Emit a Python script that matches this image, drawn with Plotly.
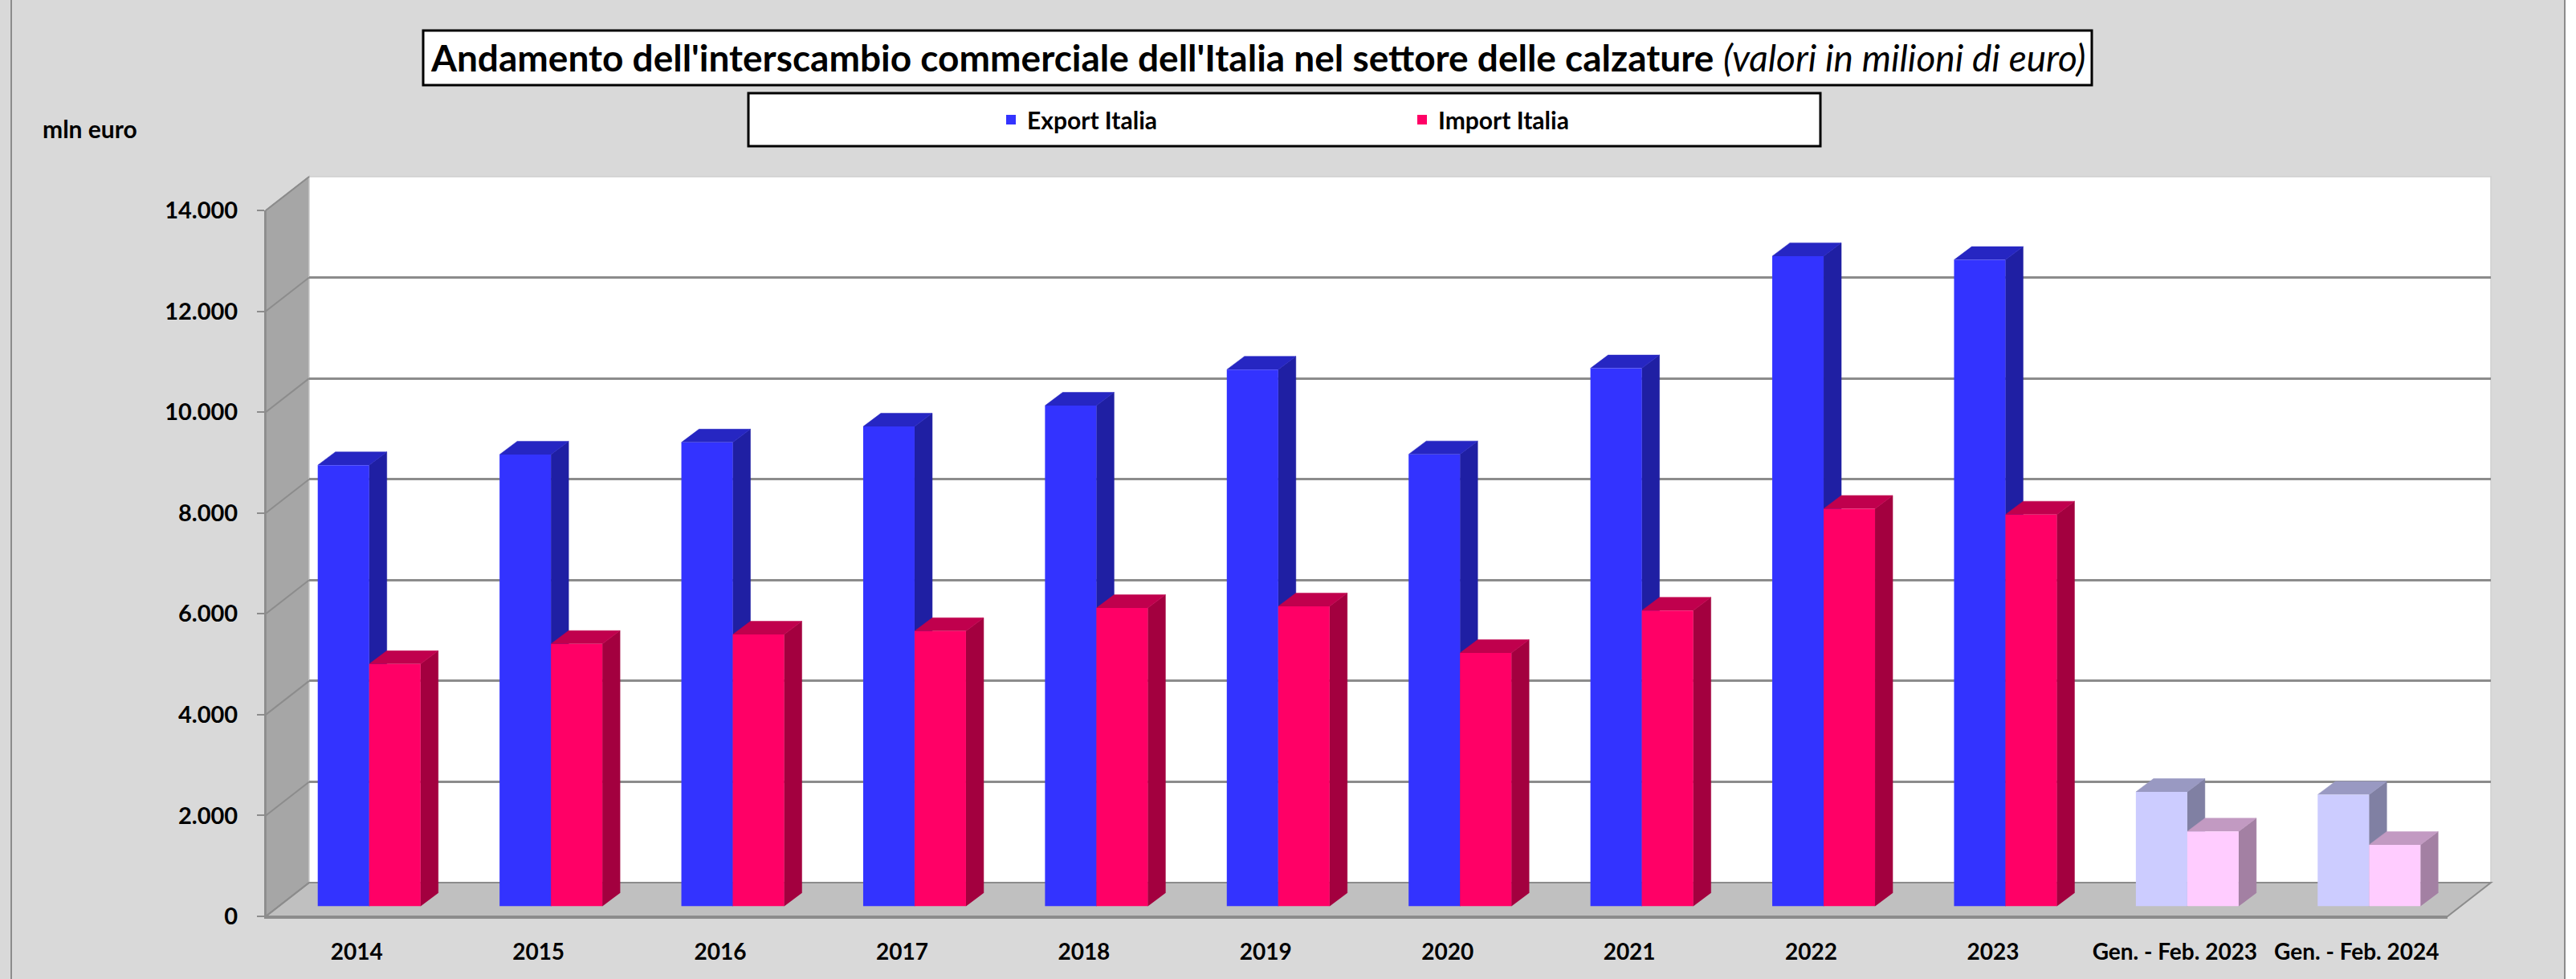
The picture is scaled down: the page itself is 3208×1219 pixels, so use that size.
import plotly.graph_objects as go

# ---------------- data ----------------
categories = ["2014", "2015", "2016", "2017", "2018", "2019", "2020", "2021",
              "2022", "2023", "Gen. - Feb. 2023", "Gen. - Feb. 2024"]
export_italia = [8750, 8960, 9200, 9515, 9930, 10645, 8965, 10670, 12895, 12820, 2270, 2215]
import_italia = [4805, 5205, 5390, 5460, 5915, 5950, 5025, 5865, 7885, 7770, 1485, 1220]
y_ticks = [0, 2000, 4000, 6000, 8000, 10000, 12000, 14000]
series_names = ["Export Italia", "Import Italia"]

# ---------------- geometry helpers (pixels of the 3208x1219 page) ----------------
W, H = 3208, 1219
def fx(px):
    return px / W
def fy(py):
    return 1 - py / H

FONT = "Lato"
YMAX = 14000
# front plane (labelled axes)
FXL, FXR, FY0, FYT = 331, 3048, 1141, 262
# back wall offset
BDX, BDY = 54, 42
# bar front plane offset
PDX, PDY = 15.5, 12.5
unit_px = (FXR - FXL) / 12.0
vpx = (FY0 - FYT) / YMAX
BW = 64 / unit_px              # bar front width (category units)
DDX = 22 / unit_px             # bar depth, x (category units)
DDY = 16.5 / vpx               # bar depth, y (value units)

partial = [c.startswith("Gen.") for c in categories]
idx = list(range(len(categories)))

def colors(normal, pale):
    return [pale if p else normal for p in partial]

exp_front = colors("#3333FF", "#CCCCFF")
exp_top = ("#2626C2", "#9999C2")
exp_side = ("#1F1FA3", "#8080A3")
imp_front = colors("#FF0066", "#FFCCFF")
imp_top = ("#C0004D", "#C29AC2")
imp_side = ("#A3003F", "#A380A3")

fig = go.Figure()

# invisible anchors so every subplot renders
for ax in ["", "2", "3", "4"]:
    fig.add_trace(go.Scatter(x=[0], y=[0], mode="markers", marker=dict(opacity=0),
                             hoverinfo="skip", showlegend=False,
                             xaxis="x" + ax, yaxis="y" + ax))

def faces(lefts, rights, vals, kind, want_pale):
    xs, ys = [], []
    for x0, x1, v, p in zip(lefts, rights, vals, partial):
        if p != want_pale:
            continue
        if kind == "side":
            pts = [(x1, 0), (x1, v), (x1 + DDX, v + DDY), (x1 + DDX, DDY)]
        else:
            pts = [(x0, v), (x0 + DDX, v + DDY), (x1 + DDX, v + DDY), (x1, v)]
        xs += [q[0] for q in pts] + [None]
        ys += [q[1] for q in pts] + [None]
    return xs, ys

exp_l = [i - BW for i in idx]
exp_r = [i for i in idx]
imp_l = [i for i in idx]
imp_r = [i + BW for i in idx]

for (l, r, vals, kind, cols) in [
    (exp_l, exp_r, export_italia, "side", exp_side),
    (exp_l, exp_r, export_italia, "top", exp_top),
    (imp_l, imp_r, import_italia, "side", imp_side),
    (imp_l, imp_r, import_italia, "top", imp_top),
]:
    for pale, col in [(False, cols[0]), (True, cols[1])]:
        xs, ys = faces(l, r, vals, kind, pale)
        fig.add_trace(go.Scatter(x=xs, y=ys, mode="lines", fill="toself",
                                 fillcolor=col, line=dict(color=col, width=0.5),
                                 hoverinfo="skip", showlegend=False,
                                 xaxis="x2", yaxis="y2"))

fig.add_trace(go.Bar(x=idx, y=export_italia, name=series_names[0], width=BW, offset=-BW,
                     marker=dict(color=exp_front, line=dict(width=0)),
                     xaxis="x3", yaxis="y3", legend="legend"))
fig.add_trace(go.Bar(x=idx, y=import_italia, name=series_names[1], width=BW, offset=0,
                     marker=dict(color=imp_front, line=dict(width=0)),
                     xaxis="x3", yaxis="y3", legend="legend2"))

# ---------------- axes ----------------
hidden = dict(visible=False, range=[-0.5, 11.5], fixedrange=True, automargin=False)
bar_xdom = [fx(FXL + PDX), fx(FXR + PDX)]
bar_ydom = [fy(FY0 - PDY), fy(FYT - PDY)]
fig.update_layout(
    xaxis=dict(hidden, domain=[fx(FXL + BDX), fx(FXR + BDX)], anchor="y"),
    yaxis=dict(domain=[fy(FY0 - BDY), fy(FYT - BDY)], range=[0, YMAX], anchor="x",
               tickvals=y_ticks, showticklabels=False, ticks="", showgrid=True,
               gridcolor="#8C8C8C", gridwidth=2.5, zeroline=False, showline=False,
               automargin=False),
    xaxis2=dict(hidden, domain=bar_xdom, anchor="y2"),
    yaxis2=dict(visible=False, domain=bar_ydom, range=[0, YMAX], anchor="x2", automargin=False),
    xaxis3=dict(hidden, domain=bar_xdom, anchor="y3"),
    yaxis3=dict(visible=False, domain=bar_ydom, range=[0, YMAX], anchor="x3", automargin=False),
    xaxis4=dict(domain=[fx(FXL), fx(FXR)], range=[-0.5, 11.5], anchor="y4",
                tickvals=idx, ticktext=categories, ticks="", showgrid=False,
                zeroline=False, showline=True, linecolor="#8C8C8C", linewidth=3,
                ticklabelstandoff=17, automargin=False,
                tickfont=dict(family=FONT, size=28, color="black", weight="bold")),
    yaxis4=dict(domain=[fy(FY0), fy(FYT)], range=[0, YMAX], anchor="x4",
                tickvals=y_ticks, tickformat=",d", ticks="outside", ticklen=9,
                tickcolor="#8C8C8C", tickwidth=2, showgrid=False, zeroline=False,
                showline=True, linecolor="#8C8C8C", linewidth=2,
                ticklabelstandoff=18, automargin=False,
                tickfont=dict(family=FONT, size=29, color="black", weight="bold")),
)

# ---------------- decoration shapes ----------------
def path(points):
    return "M " + " L ".join(f"{fx(a):.6f},{fy(b):.6f}" for a, b in points) + " Z"

shapes = []
# chart area
shapes.append(dict(type="rect", xref="paper", yref="paper", x0=fx(3195), x1=1.0, y0=0, y1=1,
                   fillcolor="white", line=dict(width=0), layer="below"))
shapes.append(dict(type="rect", xref="paper", yref="paper", x0=fx(14), x1=fx(3194),
                   y0=fy(1235), y1=fy(-5), line=dict(color="#8C8C8C", width=2), layer="below"))
# side wall
shapes.append(dict(type="path", xref="paper", yref="paper", layer="below",
                   path=path([(FXL, FY0), (FXL, FYT), (FXL + BDX, FYT - BDY), (FXL + BDX, FY0 - BDY)]),
                   fillcolor="#A6A6A6", line=dict(color="#8C8C8C", width=1.5)))
# back wall
shapes.append(dict(type="rect", xref="paper", yref="paper", layer="below",
                   x0=fx(FXL + BDX), x1=fx(FXR + BDX), y0=fy(FY0 - BDY), y1=fy(FYT - BDY),
                   fillcolor="white", line=dict(color="#D0D0D0", width=1.5)))
# floor
shapes.append(dict(type="path", xref="paper", yref="paper", layer="below",
                   path=path([(FXL, FY0), (FXR, FY0), (FXR + BDX, FY0 - BDY), (FXL + BDX, FY0 - BDY)]),
                   fillcolor="#C0C0C0", line=dict(color="#8C8C8C", width=2)))
# diagonal gridlines on the side wall
for v in y_ticks:
    yf = FY0 - v * vpx
    shapes.append(dict(type="line", xref="paper", yref="paper", layer="below",
                       x0=fx(FXL), y0=fy(yf), x1=fx(FXL + BDX), y1=fy(yf - BDY),
                       line=dict(color="#8C8C8C", width=2)))
# title box & legend box
shapes.append(dict(type="rect", xref="paper", yref="paper", layer="below",
                   x0=fx(527), x1=fx(2605), y0=fy(106), y1=fy(38),
                   fillcolor="white", line=dict(color="black", width=3)))
shapes.append(dict(type="rect", xref="paper", yref="paper", layer="below",
                   x0=fx(932), x1=fx(2267), y0=fy(182), y1=fy(116),
                   fillcolor="white", line=dict(color="black", width=3)))

annotations = [
    dict(text="<b>Andamento dell'interscambio commerciale dell'Italia nel settore delle calzature</b>"
              " <i>(valori in milioni di euro)</i>",
         x=fx(1566), y=fy(72), xref="paper", yref="paper", xanchor="center", yanchor="middle",
         showarrow=False, font=dict(family=FONT, size=46, color="black")),
    dict(text="<b>mln euro</b>", x=fx(51), y=fy(160), xref="paper", yref="paper",
         xanchor="left", yanchor="middle", showarrow=False,
         font=dict(family=FONT, size=30, color="black")),
]

legend_common = dict(orientation="h", xanchor="left", yanchor="middle",
                     bgcolor="rgba(0,0,0,0)", borderwidth=0,
                     font=dict(family=FONT, size=30, color="black", weight="bold"))

fig.update_layout(
    width=W, height=H, margin=dict(l=0, r=0, t=0, b=0, pad=0, autoexpand=False),
    paper_bgcolor="#D9D9D9", plot_bgcolor="rgba(0,0,0,0)",
    separators=",.", hovermode=False, showlegend=True,
    barmode="overlay",
    shapes=shapes, annotations=annotations,
    legend=dict(legend_common, x=fx(1239), y=fy(149)),
    legend2=dict(legend_common, x=fx(1751), y=fy(149)),
)

fig.write_html("out.html")
